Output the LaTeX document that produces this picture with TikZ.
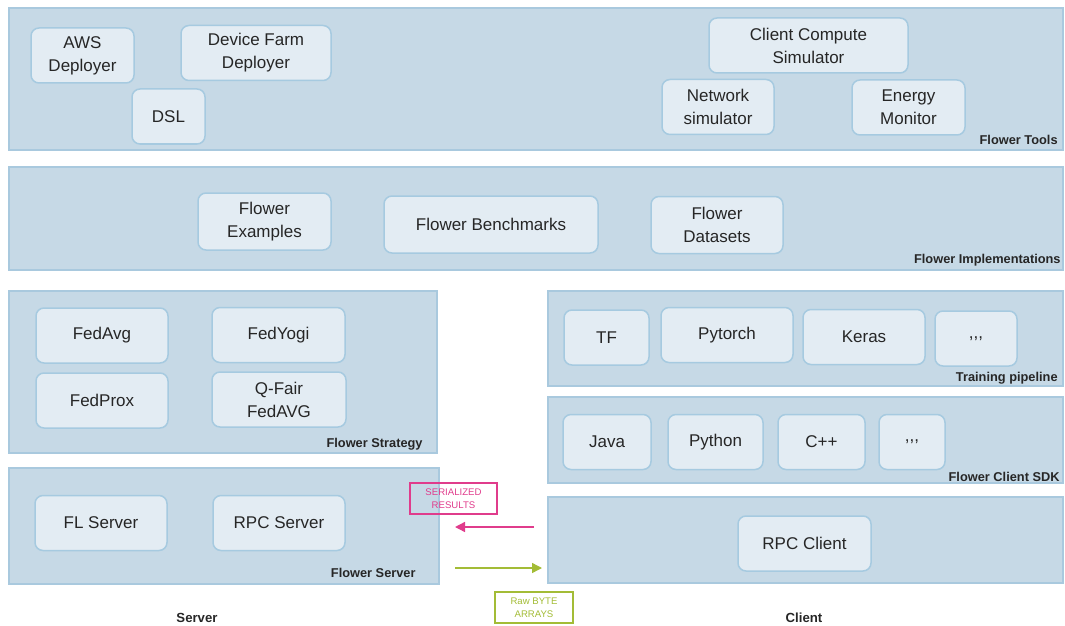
\documentclass[tikz,border=0pt]{standalone}
\usepackage{fontspec}
\setmainfont{Liberation Sans}
\usepackage{tikz}
\usetikzlibrary{arrows.meta}
\definecolor{panelblue}{HTML}{C6D9E6}
\definecolor{paneledge}{HTML}{A9C9DE}
\definecolor{boxfill}{HTML}{E3ECF3}
\definecolor{boxedge}{HTML}{A6CAE0}
\definecolor{inkgray}{HTML}{262626}
\definecolor{serialpink}{HTML}{E03C8C}
\definecolor{rawgreen}{HTML}{A3BC36}

\begin{document}
\begin{tikzpicture}[x=0.5pt,y=-0.5pt]
\useasboundingbox (0,0) rectangle (1065,626);
% layers
\begin{scope}[every node/.style={draw=paneledge,fill=panelblue,line width=0.8pt,inner sep=0pt}]
    \node[minimum width=527pt,minimum height=71pt] (tools) at (536,79) {};
    \node[minimum width=527pt,minimum height=51.5pt] (impl) at (536,218.5) {};
    \node[minimum width=214pt,minimum height=81pt] (strategy) at (223,372) {};
    \node[minimum width=215pt,minimum height=58pt] (server) at (224,526) {};
    \node[minimum width=257.5pt,minimum height=47.5pt] (training) at (805.5,338.5) {};
    \node[minimum width=257.5pt,minimum height=43pt] (sdk) at (805.5,440) {};
    \node[minimum width=257.5pt,minimum height=43pt] (rpcpanel) at (805.5,540) {};
\end{scope}
\begin{scope}[every node/.style={anchor=base east,inner sep=0pt,text=inkgray,
              font=\fontsize{6.4}{8}\selectfont\bfseries}]
    \node (toolslabel) at (1058,144) {Flower Tools};
    \node (impllabel) at (1061,263) {Flower Implementations};
    \node (strategylabel) at (423,447) {Flower Strategy};
    \node (serverlabel) at (416,577) {Flower Server};
    \node (traininglabel) at (1058,381) {Training pipeline};
    \node (sdklabel) at (1060,481) {Flower Client SDK};
\end{scope}

% components
\begin{scope}[every node/.style={draw=boxedge,fill=boxfill,rounded corners=4pt,line width=0.75pt,
              align=center,text=inkgray,minimum height=27.5pt,inner sep=0pt,
              font=\fontsize{8.5}{11.5}\selectfont}]
    \node[minimum width=51.5pt] (aws) at (82.5,55.5) {AWS\\Deployer};
    \node[minimum width=75pt] (farm) at (256,53) {Device Farm\\Deployer};
    \node[minimum width=36.5pt] (dsl) at (168.5,116.5) {DSL};
    \node[minimum width=99.5pt] (compute) at (808.5,45.5) {Client Compute\\Simulator};
    \node[minimum width=56pt] (network) at (718,107) {Network\\simulator};
    \node[minimum width=56.5pt] (energy) at (908.5,107.5) {Energy\\Monitor};

    \node[minimum width=66.5pt,minimum height=28.5pt] (examples) at (264.5,221.5) {Flower\\Examples};
    \node[minimum width=107pt,minimum height=28.5pt] (benchmarks) at (491,224.5) {Flower Benchmarks};
    \node[minimum width=66pt,minimum height=28.5pt] (datasets) at (717,225) {Flower\\Datasets};

    \node[minimum width=66pt] (fedavg) at (102,335.5) {FedAvg};
    \node[minimum width=66.5pt] (fedyogi) at (278.5,335) {FedYogi};
    \node[minimum width=66pt] (fedprox) at (102,400.5) {FedProx};
    \node[minimum width=67pt] (qfair) at (279,399.5) {Q-Fair\\FedAVG};

    \node[minimum width=66pt] (flserver) at (101,523) {FL Server};
    \node[minimum width=66pt] (rpcserver) at (279,523) {RPC Server};

    \node[minimum width=42.5pt] (tf) at (606.5,337.5) {TF};
    \node[minimum width=66pt] (pytorch) at (727,335) {Pytorch};
    \node[minimum width=61pt] (keras) at (864,337) {Keras};
    \node[minimum width=41pt] (moreml) at (976,338.5) {{,}{,}{,}};

    \node[minimum width=44pt] (java) at (607,442) {Java};
    \node[minimum width=47.5pt] (python) at (715.5,442) {Python};
    \node[minimum width=43.5pt] (cpp) at (821.5,442) {C++};
    \node[minimum width=33pt] (morelang) at (912,442) {{,}{,}{,}};

    \node[minimum width=66.5pt] (rpcclient) at (804.5,543.5) {RPC Client};
\end{scope}

\begin{scope}[every node/.style={font=\fontsize{6.6}{8}\selectfont\bfseries,text=inkgray,inner sep=0pt}]
    \node (serverside) at (197,618) {Server};
    \node (clientside) at (804,618) {Client};
\end{scope}

% messages
\begin{scope}[every node/.style={align=center,line width=0.8pt,inner sep=0pt,minimum height=15.5pt,
              font=\fontsize{4.8}{6.5}\selectfont}]
    \node[draw=serialpink,text=serialpink,minimum width=43.5pt] (results) at (453.5,498.5) {SERIALIZED\\RESULTS};
    \node[draw=rawgreen,text=rawgreen,minimum width=39pt] (bytes) at (534,607.5) {Raw BYTE\\ARRAYS};
\end{scope}
\coordinate (resfrom) at (534,527);
\coordinate (resto) at (455,527);
\coordinate (bytesfrom) at (455,568);
\coordinate (bytesto) at (542,568);
\begin{scope}[line width=0.7pt,>={Triangle[length=5pt,width=5pt]}]
    \draw [->,serialpink] (resfrom) -- (resto);
    \draw [->,rawgreen] (bytesfrom) -- (bytesto);
\end{scope}

\end{tikzpicture}
\end{document}
